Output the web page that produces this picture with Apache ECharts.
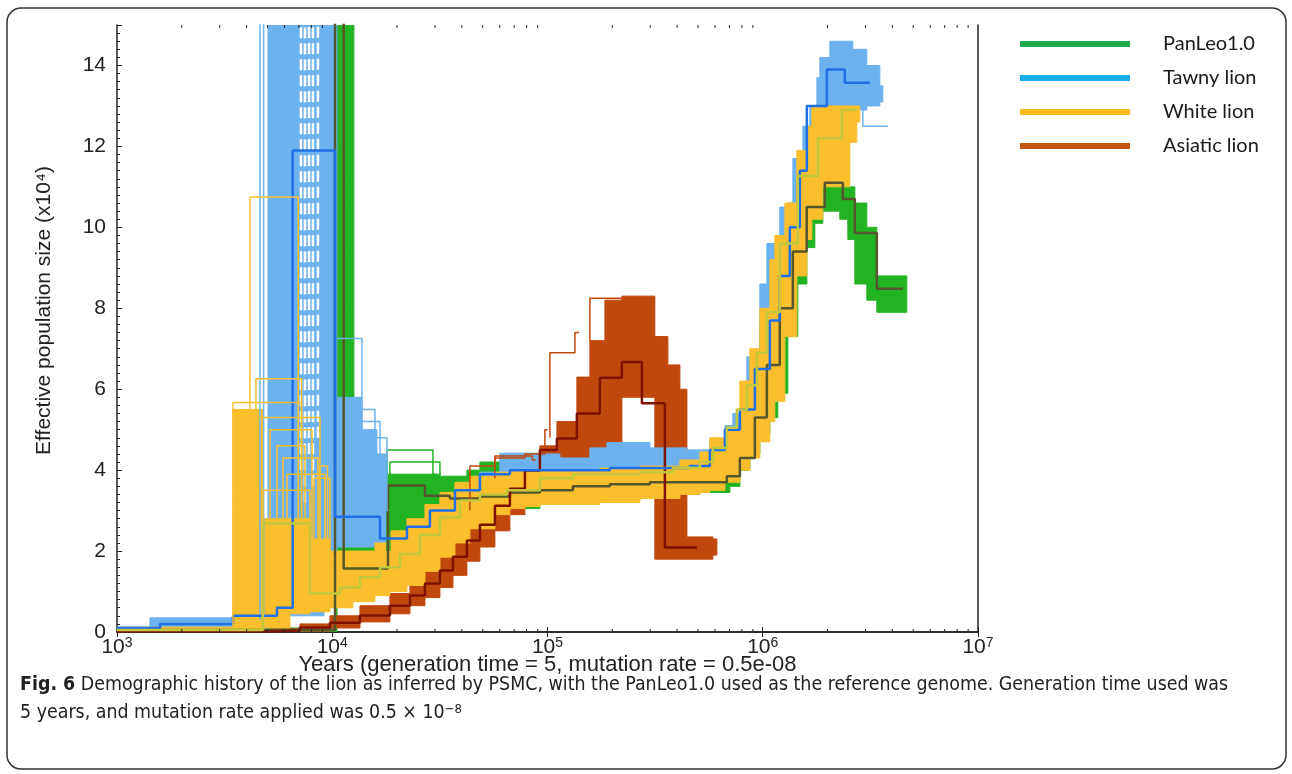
<!DOCTYPE html>
<html><head><meta charset="utf-8">
<script src="https://cdn.jsdelivr.net/npm/echarts@6/dist/echarts.min.js"></script>
<style>html,body{margin:0;padding:0;background:#fff;}#c{width:1292px;height:774px;}</style>
</head><body><div id="c"></div>
<script>
// ---------- DATA (years, effective population size x10^4) ----------
// PanLeo1.0 (green)
const gMedX = [1000, 10300, 11300, 18150, 26960, 35220, 48530, 66890, 92190, 131200, 194900, 299000, 473500, 681200, 783000, 919200, 1045000, 1200000, 1380000, 1600000, 1943000, 2355000, 2678000, 3388000, 4475000];
const gMedN = [0.05, 40, 1.57, 3.62, 3.37, 3.3, 3.35, 3.45, 3.5, 3.6, 3.65, 3.7, 3.7, 3.85, 4.3, 5.3, 6.6, 8.0, 9.4, 10.5, 11.1, 10.7, 9.86, 8.48, 8.48];
const gBandX = [1000, 10400, 10510, 12610, 13170, 17570, 18150, 20630, 25550, 31640, 42230, 48530, 60100, 92190, 131200, 194900, 299000, 510300, 703400, 783000, 871300, 969400, 1079000, 1175000, 1308000, 1455000, 1603000, 1746000, 1902000, 2281000, 2485000, 2678000, 3045000, 3388000, 4670000];
const gLo = [0, 0, 1.3, 1.35, 1.45, 1.55, 2.0, 2.2, 2.6, 2.9, 3.0, 3.0, 3.05, 3.2, 3.3, 3.35, 3.4, 3.45, 3.6, 4.0, 4.4, 4.9, 5.3, 5.9, 7.3, 8.6, 9.5, 10.1, 10.4, 10.2, 9.7, 8.6, 8.2, 7.9, 7.9];
const gHi = [0.1, 0.2, 40, 2.8, 2.8, 3.9, 3.9, 3.9, 3.9, 3.85, 4.0, 4.2, 4.2, 4.05, 3.95, 3.95, 4.0, 4.1, 4.6, 5.3, 6.3, 7.6, 8.8, 9.8, 10.6, 11.1, 11.3, 11.4, 11.5, 11.5, 11.0, 10.6, 10.0, 8.8, 8.8];
const gOut1 = [[17950, 2.0], [17950, 4.5], [29360, 3.9], [30000, 3.9]];
const gOut2 = [[18530, 2.0], [18530, 4.2], [31640, 3.9], [32000, 3.9]];

// Tawny lion (blue)
const bMedX = [1000, 1584, 3458, 5536, 6549, 10290, 16660, 22230, 28430, 37150, 48530, 66890, 97250, 134100, 194900, 299000, 458600, 568000, 666800, 783000, 919200, 1079000, 1200000, 1336000, 1487000, 1603000, 1985000, 2406000, 3144000];
const bMedN = [0.1, 0.2, 0.4, 0.6, 11.9, 2.85, 2.31, 2.6, 3.0, 3.5, 3.9, 4.0, 4.0, 4.0, 4.05, 4.05, 4.1, 4.5, 5.0, 5.5, 6.5, 7.7, 8.8, 10.0, 11.4, 13.0, 13.9, 13.57, 13.57];
const bBandX = [1000, 1423, 5028, 9151, 10510, 13740, 16130, 17950, 22230, 28430, 37150, 48530, 60100, 92190, 114200, 157400, 188700, 299000, 444200, 568000, 666800, 726300, 843900, 969400, 1045000, 1200000, 1380000, 1536000, 1655000, 1784000, 1842000, 2050000, 2621000, 3045000, 3499000, 3613000];
const bLo = [0.02, 0.05, 0.4, 0.6, 2.1, 2.1, 2.1, 2.2, 2.4, 2.8, 3.3, 3.7, 3.85, 3.9, 3.8, 3.85, 3.95, 4.0, 4.0, 4.1, 4.4, 4.7, 5.1, 5.8, 6.5, 7.6, 9.0, 10.3, 11.5, 12.3, 12.6, 12.9, 12.9, 13.0, 13.1, 13.1];
const bHi = [0.12, 0.35, 40, 40, 5.8, 5.0, 4.4, 2.45, 2.7, 3.1, 3.6, 3.95, 4.42, 4.4, 4.3, 4.55, 4.68, 4.55, 4.5, 4.75, 5.1, 5.4, 6.8, 8.6, 9.6, 10.5, 11.7, 12.5, 13.0, 13.7, 14.2, 14.6, 14.4, 14.0, 13.5, 13.5];
const bOut1 = [[4615, 0.3], [4615, 40], [4900, 40]];
const bOut2 = [[4800, 0.3], [4800, 40], [5000, 40]];
const bOut3 = [[10510, 7.25], [13740, 2.5], [14000, 2.5]];
const bOut4 = [[12480, 5.5], [15790, 3.0], [16000, 3.0]];
const bOut5 = [[12480, 5.2], [16660, 3.2], [17000, 3.2]];
const bOut6 = [[12480, 4.8], [17950, 3.0], [18200, 3.0]];
const bOut7 = [[2825000, 13.0], [2917000, 12.5], [3811000, 12.5]];
// gaps between the Tawny bootstrap lines inside the spike (x positions, lower end)
const bGapX = [7155, 7467, 7795, 8136, 8582];
const bGapLow = [4.0, 3.2, 4.4, 3.6, 4.8];

// White lion (yellow)
const yMedX = [1000, 4765, 7879, 10860, 13450, 16660, 20630, 25550, 31640, 39190, 48530, 64780, 92190, 131200, 268700, 382300, 510300, 586500, 681200, 757900, 843900, 939100, 1045000, 1200000, 1455000, 1803000, 2330000, 2736000];
const yMedN = [0.05, 2.68, 0.95, 1.1, 1.35, 1.6, 1.93, 2.4, 2.83, 3.25, 3.4, 3.5, 3.8, 3.9, 3.95, 4.06, 4.2, 4.55, 5.05, 5.5, 6.1, 6.9, 7.9, 9.6, 11.27, 12.2, 12.9, 12.9];
const yBandX = [1000, 3458, 4765, 6362, 7879, 9757, 12480, 15790, 18530, 22230, 26960, 31640, 37150, 43610, 56970, 66890, 78520, 92190, 114200, 175200, 268700, 412100, 510300, 568000, 666800, 783000, 871300, 969400, 1079000, 1138000, 1267000, 1440000, 1603000, 1691000, 1902000, 2539000, 2736000, 2825000];
const yLo = [0.0, 0.05, 0.1, 0.45, 0.5, 0.6, 0.75, 0.9, 1.0, 1.15, 1.5, 1.85, 2.2, 2.55, 2.9, 3.05, 3.1, 3.15, 3.15, 3.2, 3.3, 3.4, 3.45, 3.5, 3.7, 4.0, 4.3, 4.7, 5.2, 5.7, 7.3, 8.8, 9.7, 10.2, 11.0, 12.1, 12.6, 12.6];
const yHi = [0.12, 5.5, 2.8, 2.8, 2.3, 2.0, 2.0, 2.2, 2.5, 2.8, 3.15, 3.45, 3.7, 3.85, 3.95, 4.0, 4.0, 4.0, 4.0, 4.05, 4.1, 4.25, 4.45, 4.8, 5.0, 6.2, 7.0, 8.0, 9.2, 9.8, 10.6, 11.9, 12.5, 13.0, 13.0, 13.0, 13.0, 13.0];
const yOut1 = [[4147, 0.6], [4147, 10.75], [6950, 1.0], [7200, 1.0]];
const yOut2 = [[4420, 0.8], [4420, 6.26], [7200, 1.5], [7600, 1.5]];
const yOut3 = [[3458, 0.1], [3458, 5.67], [7200, 1.2], [7500, 1.2]];
const yOut4 = [[4016, 0.5], [4016, 5.3], [8767, 1.0], [9000, 1.0]];
const yOut5 = [[8220, 0.8], [8220, 3.8], [9757, 1.8], [10200, 1.8]];
const yOut6 = [[8767, 0.8], [8767, 4.1], [9500, 1.5]];
const yOut7 = [[5136, 1.0], [5136, 5.0], [8049, 1.5], [8300, 1.5]];
const yOut8 = [[5536, 1.0], [5536, 4.6], [7467, 1.2], [7700, 1.2]];
const yOut9 = [[5902, 1.0], [5902, 4.3], [8582, 1.6], [8800, 1.6]];
const yOut10 = [[6162, 1.0], [6162, 3.9], [9249, 2.0], [9500, 2.0]];
const yOut11 = [[4765, 2.0], [4765, 3.5], [7879, 1.0], [8000, 1.0]];

// Asiatic lion (brown)
const aMedX = [1000, 5136, 7079, 9757, 13450, 18530, 22960, 26960, 31640, 36370, 42230, 48530, 56970, 66890, 78520, 92190, 110600, 136900, 175200, 221600, 274500, 351100, 494200];
const aMedN = [0.01, 0.04, 0.11, 0.23, 0.41, 0.65, 0.90, 1.20, 1.52, 1.86, 2.26, 2.65, 3.12, 3.54, 3.99, 4.5, 4.78, 5.40, 6.28, 6.67, 5.65, 2.09, 2.09];
const aBandX = [1000, 5136, 7079, 9757, 13450, 18530, 22960, 26960, 31640, 36370, 42230, 48530, 56970, 66890, 78520, 92190, 110600, 136900, 157400, 184800, 221600, 315300, 362500, 412100, 444200, 586500, 612100];
const aLo = [0, 0, 0.02, 0.1, 0.25, 0.45, 0.65, 0.85, 1.1, 1.4, 1.75, 2.1, 2.5, 2.9, 3.3, 3.7, 4.0, 4.3, 4.35, 4.45, 5.8, 1.8, 1.8, 1.8, 1.8, 1.9, 1.9];
const aHi = [0.03, 0.08, 0.2, 0.4, 0.65, 0.95, 1.3, 1.6, 2.0, 2.45, 2.9, 3.3, 3.7, 4.05, 4.35, 4.6, 5.2, 6.3, 7.2, 8.2, 8.3, 7.3, 6.6, 6.0, 2.35, 2.3, 2.3];
const aOut1 = [[157400, 7.2], [157400, 8.25], [299000, 7.0], [310000, 7.0]];
const aOut2 = [[102600, 4.8], [102600, 6.9], [134100, 7.4], [140000, 7.4]];
const aOut3 = [[43610, 3.0], [43610, 4.1], [56970, 4.3], [78520, 4.4], [97250, 5.0], [100000, 5.0]];
const aOut4 = [[56970, 3.8], [56970, 4.35], [85000, 4.25], [88000, 4.25]];

// axes
const xMinorTicks = [2000,3000,4000,5000,6000,7000,8000,9000,20000,30000,40000,50000,60000,70000,80000,90000,200000,300000,400000,500000,600000,700000,800000,900000,2e6,3e6,4e6,5e6,6e6,7e6,8e6,9e6];
const legendNames = ['PanLeo1.0', 'Tawny lion', 'White lion', 'Asiatic lion'];

// ---------- STYLE ----------
const C = {
  green: '#22b322', greenMed: '#56552b', greenLeg: '#1faa4c',
  blue: '#6cb2ef', blueMed: '#1f6fe6', blueLeg: '#1aaee8',
  yellow: '#fbbf2e', yellowMed: '#c2c83c', yellowLeg: '#f7ba18',
  brown: '#c1480c', brownMed: '#7e1202', brownLeg: '#c4560f'
};
const FONT = 'Liberation Sans, Arial, sans-serif';
const CAPFONT = 'Liberation Sans Narrow, DejaVu Sans Condensed, sans-serif';
const pairs = (xs, ys) => xs.map((x, i) => [x, ys[i]]);

// bootstrap envelope drawn as a stepped polygon through the axis scales
function band(id, xs, lo, hi, color) {
  return {
    type: 'custom', name: id + '_band', silent: true, z: 2,
    data: [[xs[0], lo[0]]],
    renderItem: function (params, api) {
      const cs = params.coordSys;
      const pts = [];
      for (let i = 0; i < xs.length - 1; i++) {
        pts.push(api.coord([xs[i], hi[i]]));
        pts.push(api.coord([xs[i + 1], hi[i]]));
      }
      for (let i = xs.length - 2; i >= 0; i--) {
        pts.push(api.coord([xs[i + 1], lo[i]]));
        pts.push(api.coord([xs[i], lo[i]]));
      }
      return {
        type: 'group',
        clipPath: {type: 'rect', shape: {x: cs.x, y: cs.y, width: cs.width, height: cs.height}},
        children: [{type: 'polygon', shape: {points: pts}, style: {fill: color, stroke: color, lineWidth: 1}}]
      };
    }
  };
}
function outline(name, d, color) {
  return {type: 'line', name: name, step: 'end', data: d, symbol: 'none', silent: true, z: 2,
          lineStyle: {width: 1.5, color: color}};
}
function median(name, xs, ns, color) {
  return {type: 'line', name: name, step: 'end', data: pairs(xs, ns), symbol: 'none', z: 2,
          itemStyle: {color: color}, lineStyle: {width: 2.5, color: color}};
}
function gapLine(name, x, low) {
  return {type: 'line', name: name, data: [[x, low], [x, 40]], symbol: 'none', silent: true, z: 2,
          lineStyle: {width: 2.5, color: '#ffffff', type: [11, 5]}};
}

const series = [].concat(
  [band('g', gBandX, gLo, gHi, C.green)],
  [outline('g1', gOut1, C.green), outline('g2', gOut2, C.green), median(legendNames[0], gMedX, gMedN, C.greenMed)],
  [band('a', aBandX, aLo, aHi, C.brown)],
  [outline('a1', aOut1, C.brown), outline('a2', aOut2, C.brown), outline('a3', aOut3, C.brown), outline('a4', aOut4, C.brown),
   median(legendNames[3], aMedX, aMedN, C.brownMed)],
  [band('b', bBandX, bLo, bHi, C.blue)],
  bGapX.map((x, i) => gapLine('bgap' + i, x, bGapLow[i])),
  [outline('b1', bOut1, C.blue), outline('b2', bOut2, C.blue), outline('b3', bOut3, C.blue), outline('b4', bOut4, C.blue),
   outline('b5', bOut5, C.blue), outline('b6', bOut6, C.blue), outline('b7', bOut7, C.blue),
   median(legendNames[1], bMedX, bMedN, C.blueMed)],
  [band('y', yBandX, yLo, yHi, C.yellow)],
  [outline('y1', yOut1, C.yellow), outline('y2', yOut2, C.yellow), outline('y3', yOut3, C.yellow),
   outline('y4', yOut4, C.yellow), outline('y5', yOut5, C.yellow), outline('y6', yOut6, C.yellow),
   outline('y7', yOut7, C.yellow), outline('y8', yOut8, C.yellow), outline('y9', yOut9, C.yellow),
   outline('y10', yOut10, C.yellow), outline('y11', yOut11, C.yellow),
   median(legendNames[2], yMedX, yMedN, C.yellowMed)],
  [{
    type: 'custom', name: 'xminor', silent: true, z: 5,
    data: xMinorTicks.map(v => [v, 0]),
    renderItem: function (params, api) {
      const cs = params.coordSys;
      const px = api.coord([api.value(0), 0])[0];
      const st = {stroke: '#222', lineWidth: 1};
      return {type: 'group', children: [
        {type: 'line', shape: {x1: px, y1: cs.y + cs.height, x2: px, y2: cs.y + cs.height - 3}, style: st},
        {type: 'line', shape: {x1: px, y1: cs.y, x2: px, y2: cs.y + 3}, style: st}
      ]};
    }
  }]
);
series.forEach(s => { s.xAxisIndex = 0; s.yAxisIndex = 0; s.animation = false; });

const axisLineStyle = {color: '#222', width: 1.5};
const option = {
  animation: false,
  textStyle: {fontFamily: FONT},
  grid: {left: 117, right: 314, top: 25, bottom: 142, show: false},
  legend: {
    orient: 'vertical', left: 1015, top: 27, itemWidth: 110, itemHeight: 6, itemGap: 10,
    selectedMode: false, icon: 'rect',
    textStyle: {fontFamily: 'Lato, Open Sans, sans-serif', fontSize: 20, color: '#1a1a1a', lineHeight: 24, padding: [0, 0, 0, 28]},
    data: [
      {name: legendNames[0], itemStyle: {color: C.greenLeg}},
      {name: legendNames[1], itemStyle: {color: C.blueLeg}},
      {name: legendNames[2], itemStyle: {color: C.yellowLeg}},
      {name: legendNames[3], itemStyle: {color: C.brownLeg}}
    ]
  },
  xAxis: [{
    type: 'log', logBase: 10, min: 1000, max: 1e7, position: 'bottom',
    axisLine: {show: true, lineStyle: axisLineStyle},
    axisTick: {show: true, inside: true, length: 5, lineStyle: {color: '#222', width: 1}},
    splitLine: {show: false},
    axisLabel: {
      margin: 4, color: '#222',
      formatter: v => '{b|10}{s|' + Math.round(Math.log10(v)) + '}',
      rich: {
        b: {fontSize: 21, fontFamily: FONT, color: '#222', lineHeight: 22, verticalAlign: 'bottom'},
        s: {fontSize: 14, fontFamily: FONT, color: '#222', lineHeight: 14, verticalAlign: 'top'}
      }
    },
    name: 'Years (generation time = 5, mutation rate = 0.5e-08',
    nameLocation: 'middle', nameGap: 22, nameMoveOverlap: false,
    nameTextStyle: {fontSize: 22, color: '#222', fontFamily: FONT}
  }, {
    type: 'log', logBase: 10, min: 1000, max: 1e7, position: 'top',
    axisLine: {show: true, lineStyle: axisLineStyle},
    axisTick: {show: true, inside: true, length: 5, lineStyle: {color: '#222', width: 1}},
    axisLabel: {show: false}, splitLine: {show: false}
  }],
  yAxis: [{
    type: 'value', min: 0, max: 15, interval: 2, position: 'left',
    axisLine: {show: true, lineStyle: axisLineStyle},
    axisTick: {show: true, inside: true, length: 5, lineStyle: {color: '#222', width: 1}},
    minorTick: {show: true, splitNumber: 10, length: 3, lineStyle: {color: '#222', width: 1}},
    splitLine: {show: false}, minorSplitLine: {show: false},
    axisLabel: {fontSize: 21, color: '#222', margin: 11, showMaxLabel: false, fontFamily: FONT},
    name: 'Effective population size (x10\u2074)',
    nameLocation: 'middle', nameGap: 62, nameMoveOverlap: false,
    nameTextStyle: {fontSize: 21, color: '#222', fontFamily: FONT, padding: [0, 0, 0, 36]}
  }, {
    type: 'value', min: 0, max: 15, position: 'right',
    axisLine: {show: true, onZero: false, lineStyle: axisLineStyle},
    axisTick: {show: false}, axisLabel: {show: false}, splitLine: {show: false}
  }],
  graphic: [
    {type: 'rect', shape: {x: 7, y: 8, width: 1279, height: 761, r: 14}, z: -10,
     style: {fill: 'none', stroke: '#333', lineWidth: 1.5}},
    {type: 'text', left: 20, top: 675, z: 10,
     style: {
       text: '{b|Fig. 6} Demographic history of the lion as inferred by PSMC, with the PanLeo1.0 used as the reference genome. Generation time used was',
       fontFamily: CAPFONT, fontSize: 19.4, fill: '#222',
       rich: {b: {fontWeight: 'bold', fontFamily: CAPFONT, fontSize: 19.4, fill: '#222'}}
     }},
    {type: 'text', left: 20, top: 703, z: 10,
     style: {
       text: '5 years, and mutation rate applied was 0.5 \u00d7 10{s|\u22128}',
       fontFamily: CAPFONT, fontSize: 19.4, fill: '#222',
       rich: {s: {fontSize: 13, fontFamily: CAPFONT, verticalAlign: 'top', lineHeight: 13, fill: '#222'}}
     }}
  ],
  series: series
};
const chart = echarts.init(document.getElementById('c'));
chart.setOption(option);
</script></body></html>
